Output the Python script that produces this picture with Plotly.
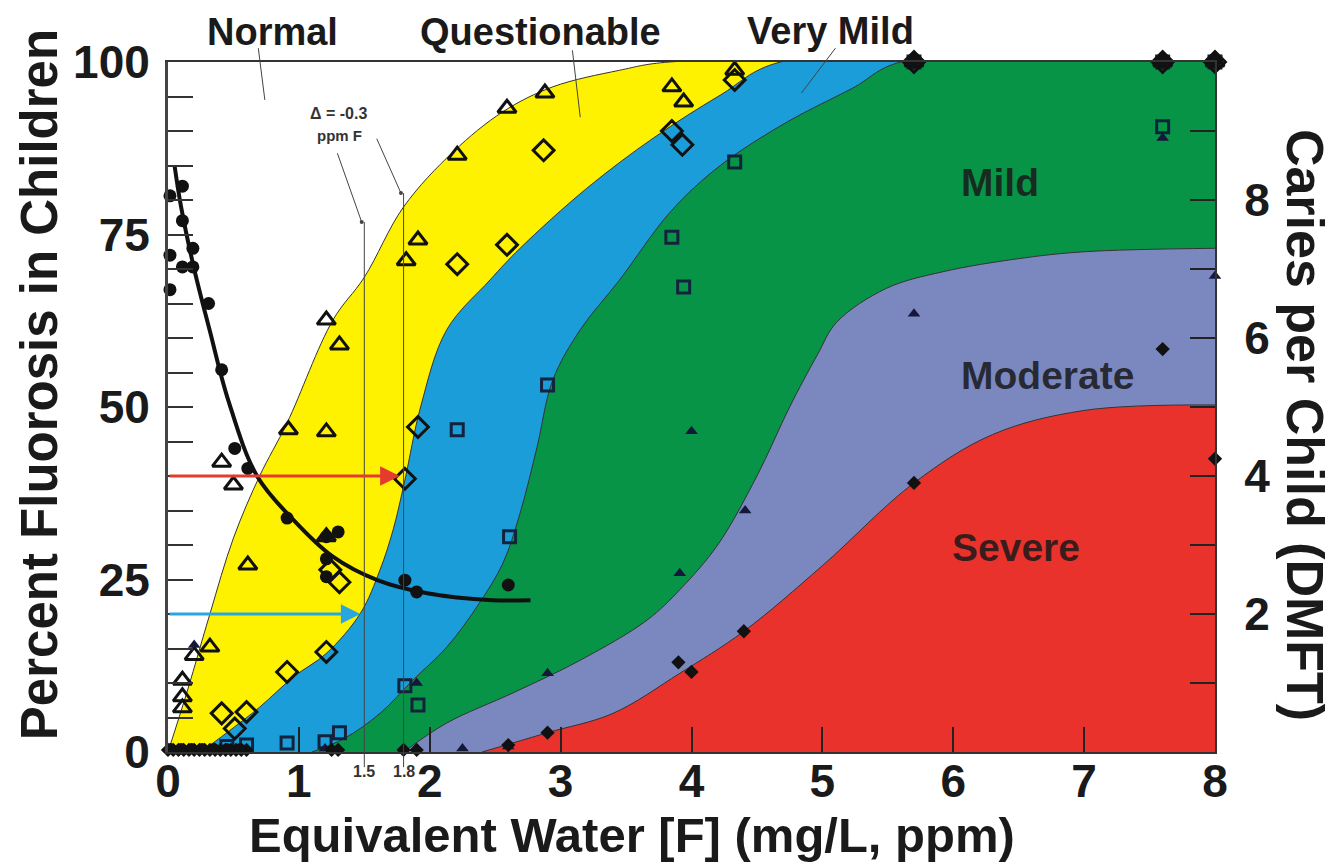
import plotly.graph_objects as go

# --- fluorosis category boundaries (percent of children) ---
b_normal_x = [0, 0.15, 0.32, 0.5, 0.7, 0.91, 1.26, 1.5, 1.8, 2.18, 2.56, 2.94, 3.45, 3.83, 8]
b_normal_y = [0, 9, 20, 31, 40, 47.7, 62.6, 68.8, 79, 87, 92.8, 96.4, 98.8, 100, 100]

b_quest_x = [0.25, 0.45, 0.7, 0.96, 1.21, 1.47, 1.62, 1.72, 1.81, 1.93, 2.13, 2.46, 2.69, 3.2, 3.71, 4.22, 4.68, 8]
b_quest_y = [0, 2.8, 6.5, 10.9, 14.3, 20.1, 26.4, 32.2, 39.4, 50, 61.2, 68.4, 73, 81.7, 89, 95.2, 100, 100]

b_vmild_x = [1.1, 1.35, 1.62, 1.87, 2.13, 2.38, 2.56, 2.69, 2.82, 2.94, 3.15, 3.45, 3.84, 4.22, 4.73, 5.23, 5.6, 8]
b_vmild_y = [0, 2, 5.6, 10.4, 15.2, 21.6, 27.4, 34.6, 44.2, 53.9, 61.2, 68.4, 78.3, 85, 91.3, 96.2, 100, 100]

b_mild_x = [1.8, 2.13, 2.64, 3.15, 3.66, 3.91, 4.2, 4.5, 4.75, 4.96, 5.11, 5.49, 5.92, 6.5, 7, 8]
b_mild_y = [0, 4.2, 8.6, 13.3, 19.1, 23.5, 30, 40, 50, 57.5, 62.3, 67.2, 69.6, 71.5, 72.5, 73]

b_mod_x = [2.4, 2.9, 3.4, 3.91, 4.4, 5.0, 5.7, 6.3, 7, 8]
b_mod_y = [0, 2.8, 5.6, 11.4, 17.5, 27, 39, 46, 49.5, 50.3]

# --- caries (DMFT per child) and fitted curve ---
caries_x = [0.015, 0.11, 0.11, 0.015, 0.11, 0.19, 0.19, 0.015, 0.31, 0.41, 0.51, 0.61, 0.91,
            1.21, 1.30, 1.21, 1.21, 1.81, 1.90, 2.6]
caries_y = [8.06, 8.2, 7.7, 7.2, 7.03, 7.3, 7.03, 6.7, 6.5, 5.54, 4.4, 4.11, 3.39,
            3.12, 3.19, 2.8, 2.54, 2.49, 2.32, 2.42]
fit_x = [0.05, 0.1, 0.2, 0.32, 0.46, 0.68, 0.96, 1.26, 1.6, 1.98, 2.48, 2.77]
fit_y = [8.5, 7.9, 7.0, 6.1, 5.1, 4.0, 3.36, 2.83, 2.49, 2.3, 2.2, 2.2]

# --- fluorosis prevalence by severity threshold (percent) ---
tri_x = [0.11, 0.11, 0.11, 0.2, 0.32, 0.41, 0.50, 0.61, 0.92, 1.21, 1.21, 1.21, 1.31, 1.82, 1.91,
         2.21, 2.59, 2.88, 3.85, 3.94, 4.33, 5.7, 7.6, 8.0]
tri_y = [6.4, 8.0, 10.4, 14.0, 15.2, 42, 38.7, 27.1, 46.7, 46.4, 31.2, 62.6, 59, 71.2, 74.2,
         86.5, 93.3, 95.5, 96.4, 94.2, 98.8, 100, 100, 100]

dia_x = [0.41, 0.51, 0.60, 0.91, 1.21, 1.24, 1.31, 1.81, 1.91, 2.21, 2.59, 2.87, 3.85, 3.93, 4.33,
         5.7, 7.6, 8.0]
dia_y = [5.6, 3.4, 5.8, 11.6, 14.5, 26.4, 24.6, 39.6, 47.1, 70.7, 73.5, 87.2, 90, 88, 97.4,
         100, 100, 100]

sq_x = [0.45, 0.6, 0.91, 1.2, 1.31, 1.81, 1.91, 2.21, 2.61, 2.9, 3.85, 3.94, 4.33, 5.7, 7.6, 7.6, 8.0]
sq_y = [0.8, 1.0, 1.3, 1.5, 2.8, 9.6, 6.8, 46.7, 31.2, 53.2, 74.6, 67.4, 85.5, 100, 90.6, 100, 100]

ftri_x = [0.2, 1.2, 1.9, 2.25, 2.6, 2.9, 3.91, 4.0, 4.41, 5.7, 7.6, 8.0]
ftri_y = [15.5, 0.5, 10, 0.5, 0.8, 11.4, 25.9, 46.5, 35, 63.5, 89, 69]

fdia_x = [0.0, 0.04, 0.08, 0.12, 0.16, 0.2, 0.24, 0.28, 0.32, 0.36, 0.4, 0.44, 0.48, 0.52, 0.56, 0.6,
          1.25, 1.3, 1.8, 1.9, 2.6, 2.9, 3.9, 4.0, 4.4, 5.7, 7.6, 8.0, 5.7, 7.6, 8.0]
fdia_y = [0.3, 0.3, 0.3, 0.3, 0.3, 0.3, 0.3, 0.3, 0.3, 0.3, 0.3, 0.3, 0.3, 0.3, 0.3, 0.3,
          0.3, 0.3, 0.3, 0.3, 1.0, 2.8, 13, 11.6, 17.5, 39, 58.4, 42.5, 100, 100, 100]

zero_circ_x = [0.02, 0.1, 0.18, 0.26, 0.35, 0.45, 0.55]
zero_circ_y = [0.5, 0.5, 0.5, 0.5, 0.5, 0.5, 0.5]

bands = [
    ("Normal/Questionable", b_normal_x, b_normal_y, "#fff200"),
    ("Questionable/Very Mild", b_quest_x, b_quest_y, "#1b9dd9"),
    ("Very Mild/Mild", b_vmild_x, b_vmild_y, "#089447"),
    ("Mild/Moderate", b_mild_x, b_mild_y, "#7b88c0"),
    ("Moderate/Severe", b_mod_x, b_mod_y, "#e8322b"),
]

FONT = "Liberation Sans, Arial, sans-serif"

fig = go.Figure()

for name, bx, by, col in bands:
    fig.add_trace(go.Scatter(
        x=bx, y=by, name=name, mode="lines", fill="tozeroy", fillcolor=col,
        line=dict(color="#333333", width=1, shape="spline", smoothing=1.0),
        hoverinfo="skip",
    ))

mk_common = dict(mode="markers", cliponaxis=False, showlegend=False)
fig.add_trace(go.Scatter(x=sq_x, y=sq_y, marker=dict(symbol="square-open", size=12, color="#14233d",
                                                   line=dict(width=3)), **mk_common))
fig.add_trace(go.Scatter(x=dia_x, y=dia_y, marker=dict(symbol="diamond-open", size=16, color="#111111",
                                                     line=dict(width=3)), **mk_common))
fig.add_trace(go.Scatter(x=tri_x, y=tri_y, marker=dict(symbol="triangle-up-open", size=16, color="#111111",
                                                     line=dict(width=3)), **mk_common))
fig.add_trace(go.Scatter(x=ftri_x, y=ftri_y, marker=dict(symbol="triangle-up", size=11, color="#14183a"),
                         **mk_common))
fig.add_trace(go.Scatter(x=fdia_x, y=fdia_y, marker=dict(symbol="diamond", size=11, color="#111111"),
                         **mk_common))
fig.add_trace(go.Scatter(x=zero_circ_x, y=zero_circ_y, marker=dict(symbol="circle", size=11, color="#111111"),
                         **mk_common))

# caries on the right axis
fig.add_trace(go.Scatter(x=fit_x, y=fit_y, yaxis="y2", mode="lines", showlegend=False,
                         line=dict(color="#111111", width=4, shape="spline", smoothing=1.0)))
fig.add_trace(go.Scatter(x=caries_x, y=caries_y, yaxis="y2", marker=dict(symbol="circle", size=13, color="#111111"),
                         **mk_common))

# vertical reference lines at 1.5 and 1.8 ppm
for xv, ytop in [(1.5, 76.8), (1.8, 81.0)]:
    fig.add_shape(type="line", xref="x", yref="paper", x0=xv, x1=xv, y0=-0.022, y1=ytop / 100,
                  line=dict(color="#444444", width=1))

C = dict(xanchor="center", yanchor="middle")
annotations = []
# arrows
annotations.append(dict(x=1.77, y=40, ax=0, ay=40, xref="x", yref="y", axref="x", ayref="y", text="",
                        showarrow=True, arrowhead=2, arrowsize=1.3, arrowwidth=3, arrowcolor="#e53a2f"))
annotations.append(dict(x=1.47, y=20, ax=0, ay=20, xref="x", yref="y", axref="x", ayref="y", text="",
                        showarrow=True, arrowhead=2, arrowsize=1.3, arrowwidth=3, arrowcolor="#2aa6df"))
# delta leaders
annotations.append(dict(x=1.48, y=76.8, ax=1.29, ay=87.0, xref="x", yref="y", axref="x", ayref="y", text="",
                        showarrow=True, arrowhead=6, arrowsize=1, arrowwidth=1, arrowcolor="#444444"))
annotations.append(dict(x=1.78, y=81.0, ax=1.59, ay=89.1, xref="x", yref="y", axref="x", ayref="y", text="",
                        showarrow=True, arrowhead=6, arrowsize=1, arrowwidth=1, arrowcolor="#444444"))
annotations.append(dict(x=1.30, y=92.6, xref="x", yref="y", text="\u0394 = -0.3", showarrow=False,
                        font=dict(family=FONT, size=16, color="#333333", weight="bold"), **C))
annotations.append(dict(x=1.31, y=89.3, xref="x", yref="y", text="ppm F", showarrow=False,
                        font=dict(family=FONT, size=15, color="#333333", weight="bold"), **C))
for xv, lab in [(1.5, "1.5"), (1.8, "1.8")]:
    annotations.append(dict(x=xv, y=-0.028, xref="x", yref="paper", text=lab, showarrow=False,
                            font=dict(family=FONT, size=16, color="#333333", weight="bold"), **C))

# top category labels with leader lines
top_labels = [("Normal", 0.80, 1.043, 0.69, 1.020, 0.74, 0.945),
              ("Questionable", 2.85, 1.043, 3.09, 1.017, 3.15, 0.920),
              ("Very Mild", 5.06, 1.045, 5.10, 1.020, 4.84, 0.955)]
for lab, tx, ty, lx0, ly0, lx1, ly1 in top_labels:
    annotations.append(dict(x=tx, y=ty, xref="x", yref="paper", text=lab, showarrow=False,
                            font=dict(family=FONT, size=38, color="#1a1a1a", weight="bold"), **C))
    fig.add_shape(type="line", xref="x", yref="paper", x0=lx0, y0=ly0, x1=lx1, y1=ly1,
                  line=dict(color="#444444", width=1))

# band labels
for lab, tx, ty in [("Mild", 6.36, 82.5), ("Moderate", 6.72, 54.6), ("Severe", 6.48, 29.7)]:
    annotations.append(dict(x=tx, y=ty, xref="x", yref="y", text=lab, showarrow=False,
                            font=dict(family=FONT, size=39, color="rgba(25,25,25,0.85)", weight="bold"), **C))

# axis titles
annotations.append(dict(x=-0.122, y=0.532, xref="paper", yref="paper", text="Percent Fluorosis in Children",
                        textangle=-90, showarrow=False,
                        font=dict(family=FONT, size=51, color="#1a1a1a", weight="bold"), **C))
annotations.append(dict(x=0.443, y=-0.120, xref="paper", yref="paper", text="Equivalent Water [F] (mg/L, ppm)",
                        showarrow=False, font=dict(family=FONT, size=49, color="#1a1a1a", weight="bold"), **C))
annotations.append(dict(x=1.086, y=0.474, xref="paper", yref="paper", text="Caries per Child (DMFT)",
                        textangle=90, showarrow=False,
                        font=dict(family=FONT, size=52, color="#1a1a1a", weight="bold"), **C))

tickfont = dict(family=FONT, size=46, color="#1a1a1a", weight="bold")

fig.update_layout(
    width=1331, height=860,
    margin=dict(l=160, r=124, t=54, b=116, pad=0),
    paper_bgcolor="white", plot_bgcolor="white",
    showlegend=False,
    annotations=annotations,
    xaxis=dict(range=[0, 8], tickvals=[0, 1, 2, 3, 4, 5, 6, 7, 8], ticks="inside", ticklen=25,
               tickwidth=1.5, tickcolor="#222222", showline=True, linecolor="#333333", linewidth=2,
               mirror=True, showgrid=False, zeroline=False, tickfont=tickfont, ticklabelstandoff=-12),
    yaxis=dict(range=[0, 100], tickvals=[0, 25, 50, 75, 100], ticks="inside", ticklen=25,
               tickwidth=1.5, tickcolor="#333333", showline=True, linecolor="#444444", linewidth=3,
               showgrid=False, zeroline=False, tickfont=tickfont, ticklabelstandoff=6,
               minor=dict(dtick=5, ticks="inside", ticklen=25, tickwidth=1.5, tickcolor="#333333")),
    yaxis2=dict(range=[0, 10], overlaying="y", side="right", tickvals=[2, 4, 6, 8], ticks="inside",
                ticklen=25, tickwidth=1.5, tickcolor="#222222", showline=True, linecolor="#333333",
                linewidth=2, showgrid=False, zeroline=False, tickfont=tickfont, ticklabelstandoff=18,
                minor=dict(dtick=1, ticks="inside", ticklen=25, tickwidth=1.5, tickcolor="#222222")),
)

fig.write_html("out.html")
